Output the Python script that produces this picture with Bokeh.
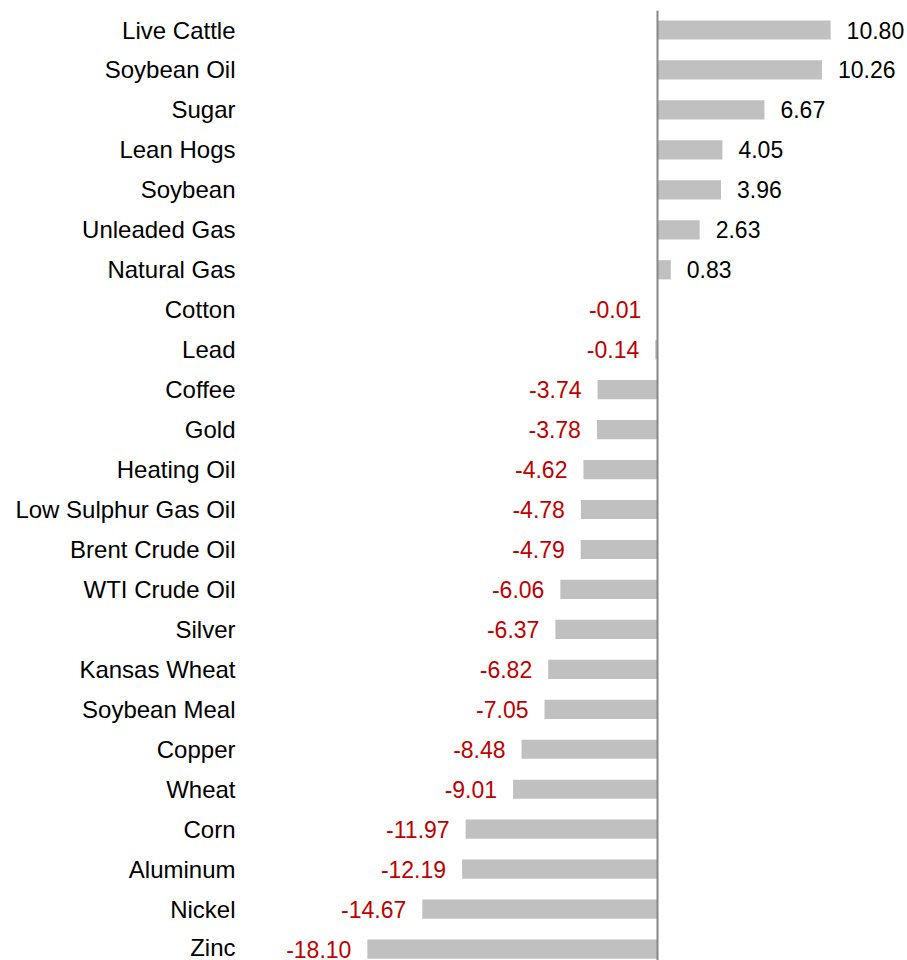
from bokeh.plotting import figure
from bokeh.models import ColumnDataSource, Range1d, FixedTicker, Span
from bokeh.core.properties import value
from bokeh.embed import file_html
from bokeh.resources import INLINE

categories = ["Live Cattle", "Soybean Oil", "Sugar", "Lean Hogs", "Soybean",
              "Unleaded Gas", "Natural Gas", "Cotton", "Lead", "Coffee", "Gold",
              "Heating Oil", "Low Sulphur Gas Oil", "Brent Crude Oil", "WTI Crude Oil",
              "Silver", "Kansas Wheat", "Soybean Meal", "Copper", "Wheat", "Corn",
              "Aluminum", "Nickel", "Zinc"]
values = [10.80, 10.26, 6.67, 4.05, 3.96, 2.63, 0.83, -0.01, -0.14, -3.74, -3.78,
          -4.62, -4.78, -4.79, -6.06, -6.37, -6.82, -7.05, -8.48, -9.01, -11.97,
          -12.19, -14.67, -18.10]

pos = list(range(len(categories)))
labels = ["%.2f" % v for v in values]
aligns = ["left" if v > 0 else "right" for v in values]
offsets = [16 if v > 0 else -16 for v in values]
colors = ["black" if v > 0 else "#C00000" for v in values]

src = ColumnDataSource(dict(y=pos, v=values, label=labels, align=aligns,
                            off=offsets, color=colors))

W, H = 907, 960
left_border = 245
top_border = 10
zero_px = 657
scale = 16.03
x0 = (left_border - zero_px) / scale
x1 = (W - zero_px) / scale
row = 39.96
y_top = -(29.5 - top_border) / row
y_bot = (H - 29.5) / row

p = figure(width=W, height=H, output_backend="svg", toolbar_location=None,
           x_range=Range1d(x0, x1), y_range=Range1d(y_bot, y_top),
           x_axis_location=None, min_border_left=left_border, min_border_right=0,
           min_border_top=top_border, min_border_bottom=0)
p.outline_line_color = None
p.xgrid.visible = False
p.ygrid.visible = False

p.hbar(y="y", left=0, right="v", height=0.48, source=src,
       fill_color="#C0C0C0", line_color=None)

p.text(x="v", y="y", text="label", source=src, text_align="align",
       x_offset="off", text_baseline="middle", text_color="color",
       text_font=value("Liberation Sans"), text_font_size="23px")

p.add_layout(Span(location=0, dimension="height", line_color="#868686", line_width=2))

ax = p.yaxis[0]
ax.ticker = FixedTicker(ticks=pos)
ax.major_label_overrides = {i: c for i, c in zip(pos, categories)}
ax.axis_line_color = None
ax.major_tick_line_color = None
ax.minor_tick_line_color = None
ax.major_tick_out = 0
ax.major_label_standoff = 10
ax.major_label_text_font = "Liberation Sans"
ax.major_label_text_font_size = "24px"
ax.major_label_text_color = "black"

open("out.html", "w").write(file_html(p, INLINE))
